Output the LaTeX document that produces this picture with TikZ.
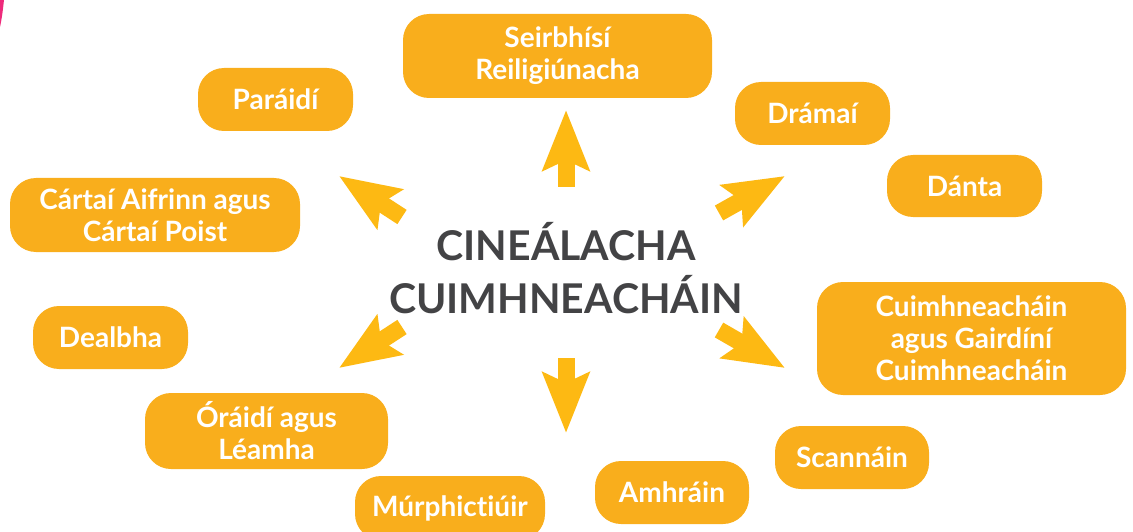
\documentclass[tikz,border=0pt]{standalone}
\usepackage{fontspec}
\setmainfont{Lato}[Ligatures=NoCommon]
\usetikzlibrary{arrows.meta}
\definecolor{boxorange}{HTML}{F9AE1C}
\definecolor{arrowyellow}{HTML}{FDB913}
\definecolor{titlegrey}{HTML}{434345}
\definecolor{edgepink}{HTML}{EE2A7B}
\begin{document}
\begin{tikzpicture}[x=1pt,y=-1pt,
    kind/.style={fill=boxorange,rounded corners=26pt,text=white,align=center,
      font=\fontsize{28}{32}\selectfont\bfseries,inner sep=0pt},
    pointer/.style={arrowyellow,line width=17pt,
      -{Stealth[length=60pt,width=46pt,inset=10pt]}}]
  \useasboundingbox (0,0) rectangle (1133,532);
  \clip (0,0) rectangle (1133,532);
  \fill[edgepink] (0,0) -- (4,0) .. controls (3,9) and (2,18) .. (0,27) -- cycle;
  \node[titlegrey,align=center,font=\fontsize{41}{53}\selectfont\bfseries]
    (title) at (566,268) {CINEÁLACHA\\CUIMHNEACHÁIN};
  \draw
    (557.5,56) node[kind,minimum width=309pt,minimum height=84pt] (seirbhisi){Seirbhísí\\Reiligiúnacha}
    (275.5,99.5) node[kind,minimum width=155pt,minimum height=63pt] (paraidi){Paráidí}
    (812.5,113.5) node[kind,minimum width=155pt,minimum height=63pt] (dramai){Drámaí}
    (964.5,186) node[kind,minimum width=155pt,minimum height=62pt] (danta){Dánta}
    (155,215) node[kind,minimum width=290pt,minimum height=74pt] (cartai){Cártaí Aifrinn agus\\Cártaí Poist}
    (971.5,338.5) node[kind,minimum width=309pt,minimum height=113pt] (gairdini){Cuimhneacháin\\agus Gairdíní\\Cuimhneacháin}
    (110.5,337.5) node[kind,minimum width=155pt,minimum height=63pt] (dealbha){Dealbha}
    (266.5,431) node[kind,minimum width=243pt,minimum height=76pt] (oraidi){Óráidí agus\\Léamha}
    (852,457.5) node[kind,minimum width=154pt,minimum height=63pt] (scannain){Scannáin}
    (672,492.5) node[kind,minimum width=154pt,minimum height=63pt] (amhrain){Amhráin}
    (450,508) node[kind,minimum width=190pt,minimum height=64pt] (murphictiuir){Múrphictiúir};
  \coordinate (up-s) at (566,187);   \coordinate (up-t) at (566,110);
  \coordinate (down-s) at (566,358); \coordinate (down-t) at (566,433);
  \coordinate (ul-s) at (402,217);   \coordinate (ul-t) at (339,176);
  \coordinate (ll-s) at (402,327);   \coordinate (ll-t) at (339,368);
  \coordinate (ur-s) at (719,213);   \coordinate (ur-t) at (785,176);
  \coordinate (lr-s) at (719,330);   \coordinate (lr-t) at (785,368);
  \begin{scope}[pointer]
    \draw (up-s) to (up-t);
    \draw (down-s) to (down-t);
    \draw (ul-s) to (ul-t);
    \draw (ll-s) to (ll-t);
    \draw (ur-s) to (ur-t);
    \draw (lr-s) to (lr-t);
  \end{scope}
\end{tikzpicture}
\end{document}
